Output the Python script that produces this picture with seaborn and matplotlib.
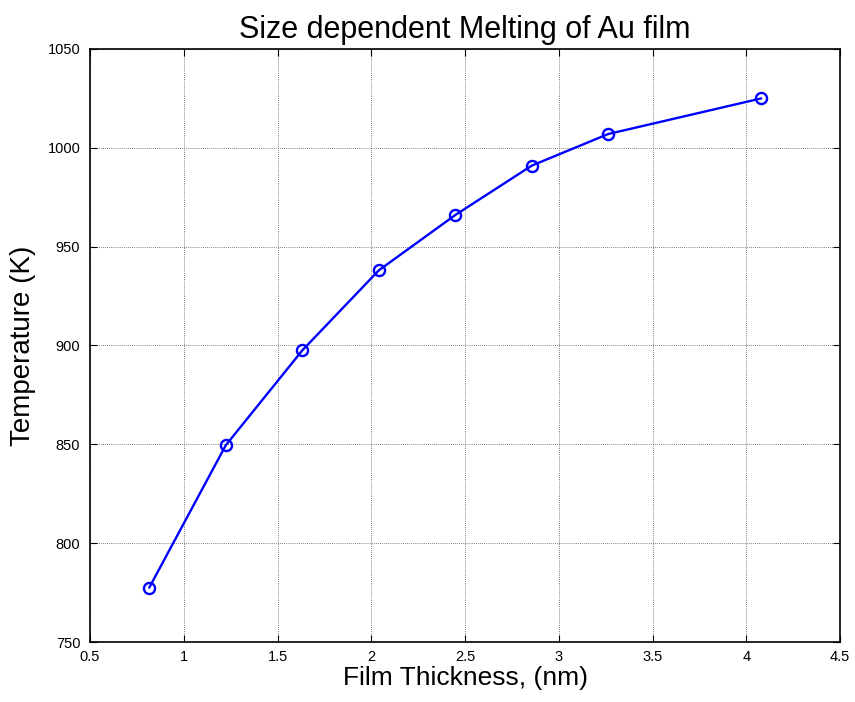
import matplotlib
matplotlib.use("Agg")
import matplotlib.pyplot as plt
import seaborn as sns
import pandas as pd

thickness = [0.816, 1.224, 1.632, 2.040, 2.448, 2.856, 3.264, 4.080]
temperature = [777.5, 849.5, 897.5, 938.0, 966.0, 991.0, 1007.0, 1025.0]
x_ticks = [0.5, 1, 1.5, 2, 2.5, 3, 3.5, 4, 4.5]
x_tick_labels = ["0.5", "1", "1.5", "2", "2.5", "3", "3.5", "4", "4.5"]
y_ticks = [750, 800, 850, 900, 950, 1000, 1050]
y_tick_labels = ["750", "800", "850", "900", "950", "1000", "1050"]

sns.set_theme(style="white")
plt.rcParams["font.family"] = ["Liberation Sans", "DejaVu Sans"]

df = pd.DataFrame({"thickness": thickness, "temperature": temperature})

fig = plt.figure(figsize=(8.55, 7.02), dpi=100)
ax = fig.add_axes([90 / 855, 1 - 642 / 702, 750 / 855, 593 / 702])

sns.lineplot(data=df, x="thickness", y="temperature", ax=ax, color="#0000ff",
             linewidth=1.7, marker="o", markersize=8, markerfacecolor="none",
             markeredgecolor="#0000ff", markeredgewidth=1.7, zorder=3)

ax.set_xlim(0.5, 4.5)
ax.set_ylim(750, 1050)
ax.set_xticks(x_ticks)
ax.set_xticklabels(x_tick_labels)
ax.set_yticks(y_ticks)
ax.set_yticklabels(y_tick_labels)

ax.grid(True, color="#555555", linestyle=(0, (1, 1.5)), linewidth=0.6)
ax.tick_params(direction="in", length=5, width=0.8, colors="black",
               labelsize=10.5, top=True, right=True, bottom=True, left=True)
ax.tick_params(axis="x", pad=6)
ax.tick_params(axis="y", pad=7)
for s in ax.spines.values():
    s.set_color("black")
    s.set_linewidth(1.2)

ax.set_title("Size dependent Melting of Au film", fontsize=22, color="black", pad=8)
ax.set_xlabel("Film Thickness, (nm)", fontsize=19, color="black", labelpad=1)
ax.set_ylabel("Temperature (K)", fontsize=20, color="black", labelpad=8)

fig.savefig("out.png", dpi=100)
